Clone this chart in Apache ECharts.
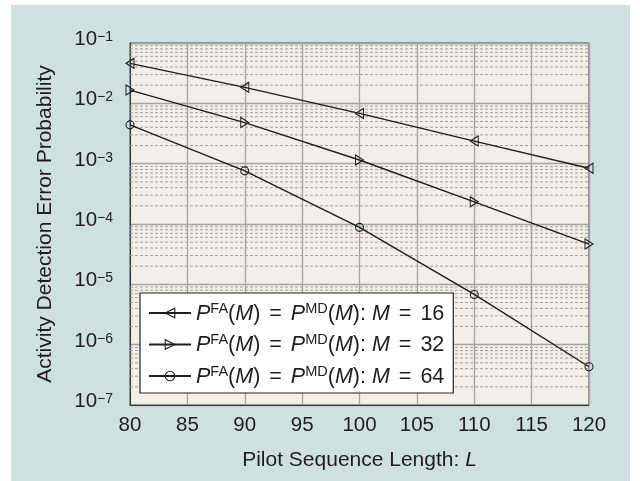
<!DOCTYPE html>
<html>
<head>
<meta charset="utf-8">
<script src="https://cdn.jsdelivr.net/npm/echarts@6/dist/echarts.min.js"></script>
<style>
  html, body { margin: 0; padding: 0; background: #ffffff; }
  #wrap { position: relative; width: 640px; height: 481px; background: #ffffff; }
  #chart { position: absolute; left: 11px; top: 5px; width: 619px; height: 476px; background: #cfe1df; }
</style>
</head>
<body>
<div id="wrap"><div id="chart"></div></div>
<script>
// Pilot sequence lengths L
const lengths = [80, 90, 100, 110, 120];
// Activity detection error probability, P_FA(M) = P_MD(M)
const errM16 = [0.046, 0.0184, 0.0068, 0.00237, 0.00084];
const errM32 = [0.0166, 0.0048, 0.00115, 0.000233, 0.0000465];
const errM64 = [0.0044, 0.00076, 0.000088, 0.0000068, 0.00000043];
const deviceCounts = ['16', '32', '64'];
// x-axis ticks
const xTicks = [80, 85, 90, 95, 100, 105, 110, 115, 120];

const FONT = '"Liberation Sans", Arial, Helvetica, sans-serif';
const INK = '#1e1e1e';
const X_MIN = 80, X_MAX = 120;

function pairs(ys) { return lengths.map((x, i) => [x, ys[i]]); }

// minor log gridlines (2..9 within each decade), drawn as one broken polyline
const minorGrid = [];
for (let d = -7; d <= -2; d++) {
  for (let k = 2; k <= 9; k++) {
    const v = k * Math.pow(10, d);
    minorGrid.push([X_MIN, v], [X_MAX, v], [X_MAX, '-']);
  }
}

const leftTri = 'path://M0,5 L10,0 L10,10 Z';
const rightTri = 'path://M10,5 L0,0 L0,10 Z';
const hollow = { color: 'rgba(0,0,0,0)', borderColor: INK, borderWidth: 1.1 };

function curve(name, ys, symbol, size) {
  return {
    name: name,
    type: 'line',
    data: pairs(ys),
    symbol: symbol,
    symbolSize: size,
    showAllSymbol: true,
    lineStyle: { color: INK, width: 1.4 },
    itemStyle: hollow,
    emphasis: { disabled: true },
    z: 5
  };
}

const txt = { color: '#1e1e1e', fontFamily: FONT };

const chart = echarts.init(document.getElementById('chart'), null, { renderer: 'canvas' });
chart.setOption({
  animation: false,
  backgroundColor: 'transparent',
  textStyle: { fontFamily: FONT },
  grid: {
    left: 119, top: 38, width: 459, height: 362,
    show: true, backgroundColor: '#f2eee9', borderColor: '#3a3a3a', borderWidth: 1
  },
  xAxis: {
    type: 'value', min: X_MIN, max: X_MAX, interval: 5,
    name: '{n|Pilot Sequence Length: }{i|L}',
    nameLocation: 'middle', nameGap: 45,
    nameTextStyle: {
      rich: {
        n: Object.assign({ fontSize: 21 }, txt),
        i: Object.assign({ fontSize: 21, fontStyle: 'italic' }, txt)
      }
    },
    axisLine: { lineStyle: { color: '#3a3a3a', width: 1 } },
    axisTick: { show: false },
    axisLabel: Object.assign({ fontSize: 20.5, margin: 10,
      formatter: v => (xTicks.indexOf(v) >= 0 ? String(v) : '') }, txt),
    splitLine: { show: true, lineStyle: { color: '#a4a4a4', width: 1.3 } }
  },
  yAxis: {
    type: 'log', logBase: 10, min: 1e-7, max: 1e-1,
    name: 'Activity Detection Error Probability',
    nameLocation: 'middle', nameGap: 74,
    nameTextStyle: Object.assign({ fontSize: 21 }, txt),
    axisLine: { show: true, lineStyle: { color: '#3a3a3a', width: 1 } },
    axisTick: { show: false },
    axisLabel: {
      margin: 17,
      formatter: v => '{b|10}{s|\u2212' + Math.abs(Math.round(Math.log10(v))) + '}',
      rich: {
        b: Object.assign({ fontSize: 20.5, verticalAlign: 'bottom', lineHeight: 26, padding: [0, 0, 6, 0] }, txt),
        s: Object.assign({ fontSize: 14, verticalAlign: 'top', lineHeight: 26 }, txt)
      }
    },
    splitLine: { show: true, lineStyle: { color: '#a4a4a4', width: 1.3 } }
  },
  legend: {
    orient: 'vertical',
    left: 129, top: 288,
    backgroundColor: '#ffffff', borderColor: '#222', borderWidth: 1.2,
    padding: [8, 9, 5, 8],
    itemWidth: 42, itemHeight: 12, itemGap: 7.5,
    itemStyle: hollow,
    data: deviceCounts.map(m => ({ name: m, itemStyle: hollow })),
    formatter: m => '{i|P}{s|FA}{n|(}{i|M}{n|)}{e|=}{i|P}{s|MD}{n|(}{i|M}{n|): }{i|M}{e|=}{n|' + m + '}',
    textStyle: {
      rich: {
        n: Object.assign({ fontSize: 21.5, verticalAlign: 'bottom', lineHeight: 24 }, txt),
        e: Object.assign({ fontSize: 21.5, verticalAlign: 'bottom', lineHeight: 24, padding: [0, 9, 0, 9] }, txt),
        i: Object.assign({ fontSize: 21.5, fontStyle: 'italic', verticalAlign: 'bottom', lineHeight: 24 }, txt),
        s: Object.assign({ fontSize: 14.5, verticalAlign: 'top', lineHeight: 24 }, txt)
      }
    }
  },
  series: [
    {
      name: 'minor-grid', type: 'line', data: minorGrid, silent: true, z: 1,
      symbol: 'none', connectNulls: false,
      lineStyle: { color: '#a3a3a3', type: [3, 2], width: 1 },
      emphasis: { disabled: true }
    },
    curve('16', errM16, leftTri, [8, 10]),
    curve('32', errM32, rightTri, [8, 10]),
    curve('64', errM64, 'circle', 8)
  ]
});
</script>
</body>
</html>
